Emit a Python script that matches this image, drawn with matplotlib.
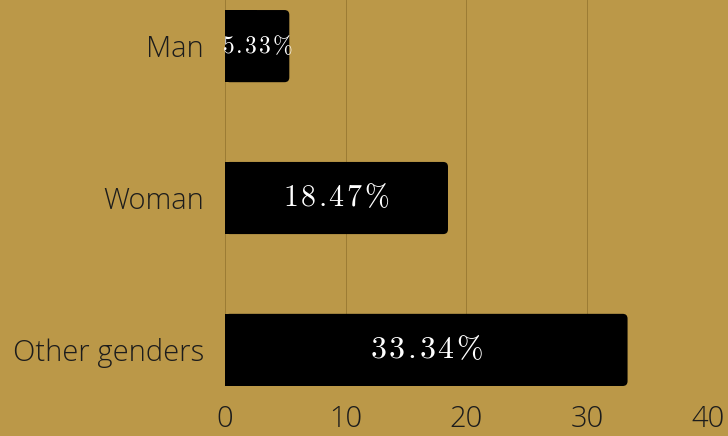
import matplotlib.pyplot as plt
from matplotlib.patches import FancyBboxPatch, Rectangle

categories = ["Man", "Woman", "Other genders"]
values = [5.33, 18.47, 33.34]
label_sizes = [17, 21.5, 23]

bg = "#BB9848"
plt.rcParams["mathtext.fontset"] = "cm"


def spaced(v, gap=0.1):
    # letter-spaced percentage label in mathtext
    # (the "." already gets 0.2 of auto space after it, so take that back)
    out = ""
    chars = list("%.2f" % v) + [r"\%"]
    for k, c in enumerate(chars):
        out += c
        if k < len(chars) - 1:
            g = gap - 0.2 if c == "." else gap
            out += r"\hspace{%.3f}" % g
    return "$" + out + "$"


fig = plt.figure(figsize=(7.28, 4.36), dpi=100, facecolor=bg)
ax = fig.add_axes([0.309, 0.1147, 0.6635, 0.8853])
ax.set_facecolor(bg)

h = 0.475
for i, v in enumerate(values):
    # rounded right end, square left end
    ax.add_patch(FancyBboxPatch((0, i - h / 2), v, h,
                                boxstyle="round,pad=0,rounding_size=0.4",
                                mutation_aspect=0.08, fc="black", ec="none", zorder=3))
    ax.add_patch(Rectangle((0, i - h / 2), v / 2, h, fc="black", ec="none", zorder=3))
    ax.text(v / 2, i, spaced(v), color="white", ha="center", va="center",
            fontsize=label_sizes[i], zorder=4)

ax.set_xlim(0, 40)
ax.set_ylim(2 + h / 2, -0.3036)
ax.set_yticks(range(len(categories)))
ax.set_yticklabels(categories)
ax.set_xticks([0, 10, 20, 30, 40])
for lab in ax.get_xticklabels() + ax.get_yticklabels():
    lab.set_fontfamily("Open Sans")
    lab.set_fontweight("light")
    lab.set_fontsize(21)
    lab.set_color("#1c1c1c")
ax.tick_params(axis="x", length=0, pad=13)
ax.tick_params(axis="y", length=0, pad=15)
ax.grid(axis="x", color="#9c7c34", lw=0.7, zorder=0)
ax.set_axisbelow(True)
for s in ax.spines.values():
    s.set_visible(False)

fig.savefig("out.png", dpi=100, facecolor=bg)
